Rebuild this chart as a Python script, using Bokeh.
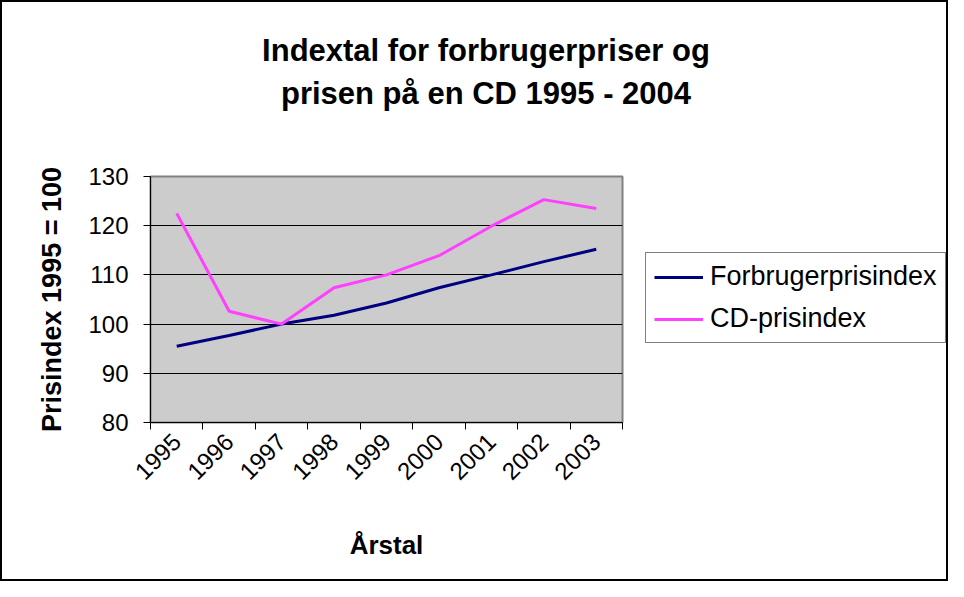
import math
from bokeh.plotting import figure
from bokeh.models import Range1d, FixedTicker, Legend, LegendItem, Div
from bokeh.layouts import column, row
from bokeh.embed import file_html
from bokeh.resources import INLINE

# ---- data ----
years = ["1995", "1996", "1997", "1998", "1999", "2000", "2001", "2002", "2003"]
forbrugerprisindex = [95.5, 97.7, 100.0, 101.8, 104.3, 107.4, 110.0, 112.7, 115.2]
cd_prisindex = [122.5, 102.6, 100.0, 107.4, 110.0, 113.9, 119.9, 125.3, 123.5]
y_ticks = [80, 90, 100, 110, 120, 130]
title_lines = ["Indextal for forbrugerpriser og", "prisen på en CD 1995 - 2004"]
series_names = ["Forbrugerprisindex", "CD-prisindex"]
colors = ["#000080", "#FF40FF"]

FONT = "Liberation Sans"
INNER_W = 944
TITLE_H = 128
FIG_H = 449
MAIN_W = 624
LEG_W = INNER_W - MAIN_W

xpos = [i + 0.5 for i in range(len(years))]
bounds = list(range(0, len(years) + 1))

title_div = Div(
    text=("<div style=\"box-sizing:border-box; width:%dpx; padding-left:24px; "
          "padding-top:27px; text-align:center; line-height:43px; "
          "font-family:'Liberation Sans'; font-weight:bold; font-size:31px; "
          "color:black;\">%s<br>%s</div>") % (INNER_W, title_lines[0], title_lines[1]),
    width=INNER_W, height=TITLE_H, margin=0)

p = figure(width=MAIN_W, height=FIG_H, output_backend="svg", toolbar_location=None,
           x_range=Range1d(0, len(years)), y_range=Range1d(y_ticks[0], y_ticks[-1]),
           min_border_left=148, min_border_right=4, min_border_top=46,
           min_border_bottom=157, margin=0)

p.background_fill_color = "#CCCCCC"
p.border_fill_color = "white"
p.outline_line_color = "#808080"
p.outline_line_width = 2

# grid
p.xgrid.visible = False
p.ygrid.ticker = FixedTicker(ticks=y_ticks)
p.ygrid.grid_line_color = "black"
p.ygrid.grid_line_width = 1

# x axis
xa = p.xaxis[0]
xa.ticker = FixedTicker(ticks=xpos, minor_ticks=bounds)
xa.major_label_overrides = {x: y for x, y in zip(xpos, years)}
xa.major_tick_line_color = None
xa.major_tick_out = 7
xa.major_tick_in = 0
xa.minor_tick_line_color = "black"
xa.minor_tick_out = 7
xa.minor_tick_in = 0
xa.major_label_orientation = math.pi / 4
xa.major_label_standoff = 8
xa.major_label_text_font = FONT
xa.major_label_text_font_size = "24px"
xa.major_label_text_color = "black"
xa.axis_line_color = "black"
xa.axis_label = "Årstal"
xa.axis_label_text_font = FONT
xa.axis_label_text_font_size = "26px"
xa.axis_label_text_font_style = "bold"
xa.axis_label_text_color = "black"
xa.axis_label_standoff = 40

# y axis
ya = p.yaxis[0]
ya.ticker = FixedTicker(ticks=y_ticks)
ya.major_tick_out = 7
ya.major_tick_in = 0
ya.minor_tick_line_color = None
ya.major_label_standoff = 15
ya.major_label_text_font = FONT
ya.major_label_text_font_size = "24px"
ya.major_label_text_color = "black"
ya.axis_line_color = "black"
ya.axis_label = "Prisindex 1995 = 100"
ya.axis_label_text_font = FONT
ya.axis_label_text_font_size = "27px"
ya.axis_label_text_font_style = "bold"
ya.axis_label_text_color = "black"
ya.axis_label_standoff = 18

# lines
series = [forbrugerprisindex, cd_prisindex]
for vals, c in zip(series, colors):
    p.line(xpos, vals, line_color=c, line_width=3)

# legend in its own panel (a figure whose view shows none of the data)
lf = figure(width=LEG_W, height=FIG_H, output_backend="svg", toolbar_location=None,
            x_range=Range1d(1000, 1001), y_range=Range1d(1000, 1001),
            min_border_left=0, min_border_right=0, min_border_top=0,
            min_border_bottom=0, margin=0)
lf.axis.visible = False
lf.grid.visible = False
lf.outline_line_color = None
lf.background_fill_color = "white"
lf.border_fill_color = "white"
lrs = [lf.line(xpos, vals, line_color=c, line_width=3) for vals, c in zip(series, colors)]

legend = Legend(items=[LegendItem(label=n, renderers=[r]) for n, r in zip(series_names, lrs)],
                location=(19, 79), margin=0, padding=8, spacing=11,
                glyph_width=49, label_standoff=7,
                label_text_font=FONT, label_text_font_size="27px",
                label_text_color="black",
                border_line_color="black", border_line_width=1,
                background_fill_color="white", background_fill_alpha=1)
lf.add_layout(legend)

layout = column(title_div, row(p, lf, spacing=0), spacing=0,
                styles={"border": "2px solid black", "background-color": "white"})

open("out.html", "w").write(file_html(layout, INLINE))
